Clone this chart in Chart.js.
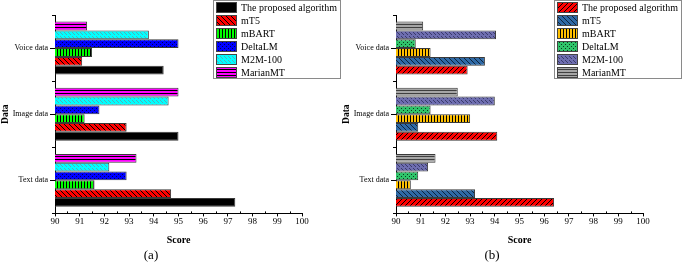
<!DOCTYPE html>
<html>
<head>
<meta charset="utf-8">
<script src="https://cdn.jsdelivr.net/npm/chart.js@4"></script>
<style>
  html, body { margin: 0; padding: 0; background: #fff; }
  .wrap { display: flex; width: 682px; height: 266px; }
  .box { position: relative; width: 341px; height: 266px; }
</style>
</head>
<body>
<div class="wrap">
  <div class="box"><canvas id="chartA"></canvas></div>
  <div class="box"><canvas id="chartB"></canvas></div>
</div>
<script>
const categories = ['Voice data', 'Image data', 'Text data'];
const methods = ['The proposed algorithm', 'mT5', 'mBART', 'DeltaLM', 'M2M-100', 'MarianMT'];

// (a)
const proposedA = [94.4, 95.0, 97.3];
const mt5A = [91.1, 92.9, 94.7];
const mbartA = [91.5, 91.2, 91.6];
const deltaA = [95.0, 91.8, 92.9];
const m2mA = [93.8, 94.6, 92.2];
const marianA = [91.3, 95.0, 93.3];

// (b)
const proposedB = [92.9, 94.1, 96.4];
const mt5B = [93.6, 90.9, 93.2];
const mbartB = [91.4, 93.0, 90.6];
const deltaB = [90.8, 91.4, 90.9];
const m2mB = [94.05, 94.0, 91.3];
const marianB = [91.1, 92.5, 91.6];

const xMin = 90;
const xMax = 100;

const serif = 'Liberation Serif';

function pattern(bg, fg, kind) {
    const s = kind === 'vert' || kind === 'horiz' ? 3 : (kind === 'dots' || kind === 'cross' ? 4 : 5);
    const c = document.createElement('canvas');
    c.width = s; c.height = s;
    const g = c.getContext('2d');
    g.fillStyle = bg;
    g.fillRect(0, 0, s, s);
    g.fillStyle = fg;
    if (kind === 'vert') {
        g.fillRect(0, 0, 1, s);
    } else if (kind === 'horiz') {
        g.fillRect(0, 0, s, 1);
    } else if (kind === 'dots') {
        g.fillRect(0, 0, 1, 1);
        g.fillRect(2, 2, 1, 1);
    } else if (kind === 'cross') {
        g.fillRect(0, 0, 1, 1);
        g.fillRect(2, 2, 1, 1);
        g.fillRect(1, 1, 1, 1);
    } else if (kind === 'bslash') {
        for (let i = 0; i < s; i++) g.fillRect(i, i, 1, 1);
    } else if (kind === 'slash') {
        for (let i = 0; i < s; i++) g.fillRect(s - 1 - i, i, 1, 1);
    }
    return g.createPattern(c, 'repeat');
}

const stylesA = [
    { bg: '#000000', fg: '#000000', kind: 'solid' },
    { bg: '#ff0000', fg: '#000000', kind: 'bslash' },
    { bg: '#00ff00', fg: '#000000', kind: 'vert' },
    { bg: '#0000ff', fg: '#000050', kind: 'dots' },
    { bg: '#00ffff', fg: '#50b0b8', kind: 'cross' },
    { bg: '#ff00ff', fg: '#000000', kind: 'horiz' }
];
const stylesB = [
    { bg: '#ff0000', fg: '#000000', kind: 'slash' },
    { bg: '#2f6aa6', fg: '#10233a', kind: 'bslash' },
    { bg: '#ffc000', fg: '#000000', kind: 'vert' },
    { bg: '#2fc46a', fg: '#0a3a1c', kind: 'dots' },
    { bg: '#6e6eb0', fg: '#3a3a6a', kind: 'cross' },
    { bg: '#a6a6a6', fg: '#404040', kind: 'horiz' }
];

function fillOf(st) {
    return st.kind === 'solid' ? st.bg : pattern(st.bg, st.fg, st.kind);
}

// legend with frame, drawn top-right
const boxLegend = {
    id: 'boxLegend',
    afterDraw(chart, args, opts) {
        const ctx = chart.ctx;
        const x = opts.x, y = 0, w = chart.width - opts.x - 1, rowH = 13;
        const ds = chart.data.datasets.slice().reverse();
        ctx.save();
        ctx.fillStyle = '#fff';
        ctx.fillRect(x, y, w, rowH * ds.length + 1);
        ctx.strokeStyle = '#8a8a8a';
        ctx.lineWidth = 1;
        ctx.strokeRect(x + 0.5, y + 0.5, w, rowH * ds.length);
        ds.forEach((d, i) => {
            const ry = y + 1 + i * rowH;
            ctx.fillStyle = d.backgroundColor;
            ctx.fillRect(x + 3, ry + 1, 21, 11);
            ctx.strokeStyle = '#444';
            ctx.strokeRect(x + 3.5, ry + 1.5, 20, 10);
            ctx.fillStyle = '#000';
            ctx.font = '10px "' + serif + '"';
            ctx.textBaseline = 'middle';
            ctx.fillText(d.label, x + 28, ry + 7);
        });
        ctx.restore();
    }
};

// minor ticks: category boundaries on y, half units on x
const minorTicks = {
    id: 'minorTicks',
    afterDraw(chart) {
        const ctx = chart.ctx;
        const a = chart.chartArea;
        const n = chart.data.labels.length;
        ctx.save();
        ctx.strokeStyle = '#000';
        ctx.lineWidth = 1;
        ctx.beginPath();
        for (let i = 0; i <= n; i++) {
            const py = Math.round(a.top + (a.bottom - a.top) * i / n) + 0.5;
            ctx.moveTo(a.left - 3, py);
            ctx.lineTo(a.left, py);
        }
        const xs = chart.scales.x;
        for (let v = xMin + 0.5; v < xMax; v += 1) {
            const px = Math.round(xs.getPixelForValue(v)) + 0.5;
            ctx.moveTo(px, a.bottom);
            ctx.lineTo(px, a.bottom - 2);
        }
        ctx.stroke();
        ctx.restore();
    }
};

function build(id, series, styles, tag) {
    // top of each group is MarianMT, bottom is the proposed algorithm
    const datasets = [];
    for (let i = series.length - 1; i >= 0; i--) {
        datasets.push({
            label: methods[i],
            data: series[i],
            backgroundColor: fillOf(styles[i]),
            borderColor: '#3a3a3a',
            borderWidth: 1,
            categoryPercentage: 0.8,
            barPercentage: 1.0
        });
    }
    new Chart(document.getElementById(id), {
        type: 'bar',
        data: { labels: categories, datasets: datasets },
        plugins: [boxLegend, minorTicks],
        options: {
            indexAxis: 'y',
            responsive: true,
            maintainAspectRatio: false,
            animation: false,
            layout: { padding: { top: 15, right: 39, left: 0, bottom: 0 } },
            scales: {
                x: {
                    min: xMin,
                    max: xMax,
                    ticks: { stepSize: 1, color: '#000', padding: 0, font: { family: serif, size: 9 } },
                    grid: { drawOnChartArea: false, tickLength: 3, color: '#000' },
                    border: { color: '#000' },
                    title: { display: true, text: 'Score', color: '#000', padding: { top: 0, bottom: 1 }, font: { family: serif, size: 10, weight: 'bold' } },
                    afterFit(scale) { scale.height = 34; }
                },
                y: {
                    ticks: { color: '#000', padding: 2, font: { family: serif, size: 8 } },
                    grid: { offset: false, drawOnChartArea: false, tickLength: 5, color: '#000' },
                    border: { color: '#000' },
                    title: { display: true, text: 'Data', color: '#000', padding: { top: 0, bottom: 0 }, font: { family: serif, size: 9.5, weight: 'bold' } },
                    afterFit(scale) { scale.width = 55; }
                }
            },
            plugins: {
                legend: { display: false },
                tooltip: { enabled: false },
                boxLegend: { x: 213 },
                title: { display: true, position: 'bottom', text: tag, color: '#000', padding: { top: 0, bottom: 3 }, font: { family: serif, size: 13, weight: 'normal' } }
            }
        }
    });
}

build('chartA', [proposedA, mt5A, mbartA, deltaA, m2mA, marianA], stylesA, '(a)');
build('chartB', [proposedB, mt5B, mbartB, deltaB, m2mB, marianB], stylesB, '(b)');
</script>
</body>
</html>
